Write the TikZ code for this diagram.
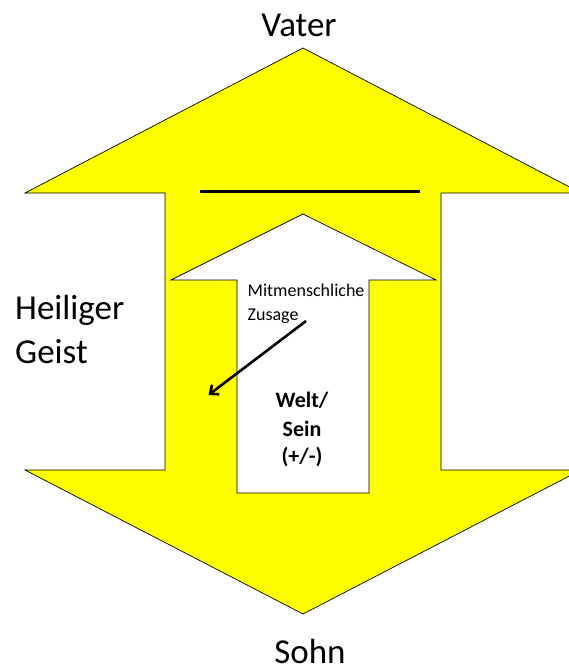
\documentclass[tikz,border=0pt]{standalone}
\usepackage{fontspec}
\setmainfont{Carlito}
\usetikzlibrary{calc, arrows.meta}
\definecolor{gelbton}{RGB}{255,255,0}
\tikzstyle{gelb}=[draw=black, fill=gelbton, line width=0.7pt]
\tikzstyle{weiss}=[draw=black, fill=white, line width=0.7pt]
\tikzstyle{gross}=[font=\fontsize{35}{44}\selectfont, inner sep=0pt]
\tikzstyle{klein}=[font=\fontsize{18}{23}\selectfont, inner sep=0pt, anchor=base west]
\tikzstyle{fett}=[font=\fontsize{22}{29}\selectfont\bfseries, inner sep=0pt, anchor=base]

\begin{document}
\begin{tikzpicture}[x=1pt,y=-1pt,>={Straight Barb[length=7pt,width=12pt]}]
  \useasboundingbox (0,0) rectangle (569,670);
  \clip (0,0) rectangle (569,670);
  \path[gelb] (303,48) -- (581,193) -- (441,193) -- (441,470) -- (581,470) -- (303,614)
    -- (25,470) -- (165,470) -- (165,193) -- (25,193) -- cycle;
  \path[weiss] (303,214) -- (436,280) -- (369,280) -- (369,493) -- (237,493) -- (237,280)
    -- (171,280) -- cycle;
  \coordinate (strichA) at (200,191.5);
  \coordinate (strichB) at (420,191.5);
  \draw[line width=2.7pt] (strichA) -- (strichB);
  \node[gross, anchor=base] (vater) at (299,36.7) {Vater};
  \node[gross, anchor=base] (sohn) at (310,663.5) {Sohn};
  \node[gross, anchor=base west] (heiliger) at (15,319) {Heiliger};
  \node[gross, anchor=base west] (geist) at ($(heiliger.base west)+(0,44)$) {Geist};
  \node[klein] (mitmensch) at (247.5,296.7) {Mitmenschliche};
  \node[klein] (zusage) at ($(mitmensch.base west)+(0,23.3)$) {Zusage};
  \node[fett] (welt) at (302,407) {Welt/};
  \node[fett] (sein) at ($(welt.base)+(0,29)$) {Sein};
  \node[fett] (plusminus) at ($(sein.base)+(0,27)$) {(+/-)};
  \coordinate (start) at (306,321);
  \coordinate (ziel) at (208.5,395);
  \draw[->, line width=2.6pt] (start) -- (ziel);
\end{tikzpicture}
\end{document}
